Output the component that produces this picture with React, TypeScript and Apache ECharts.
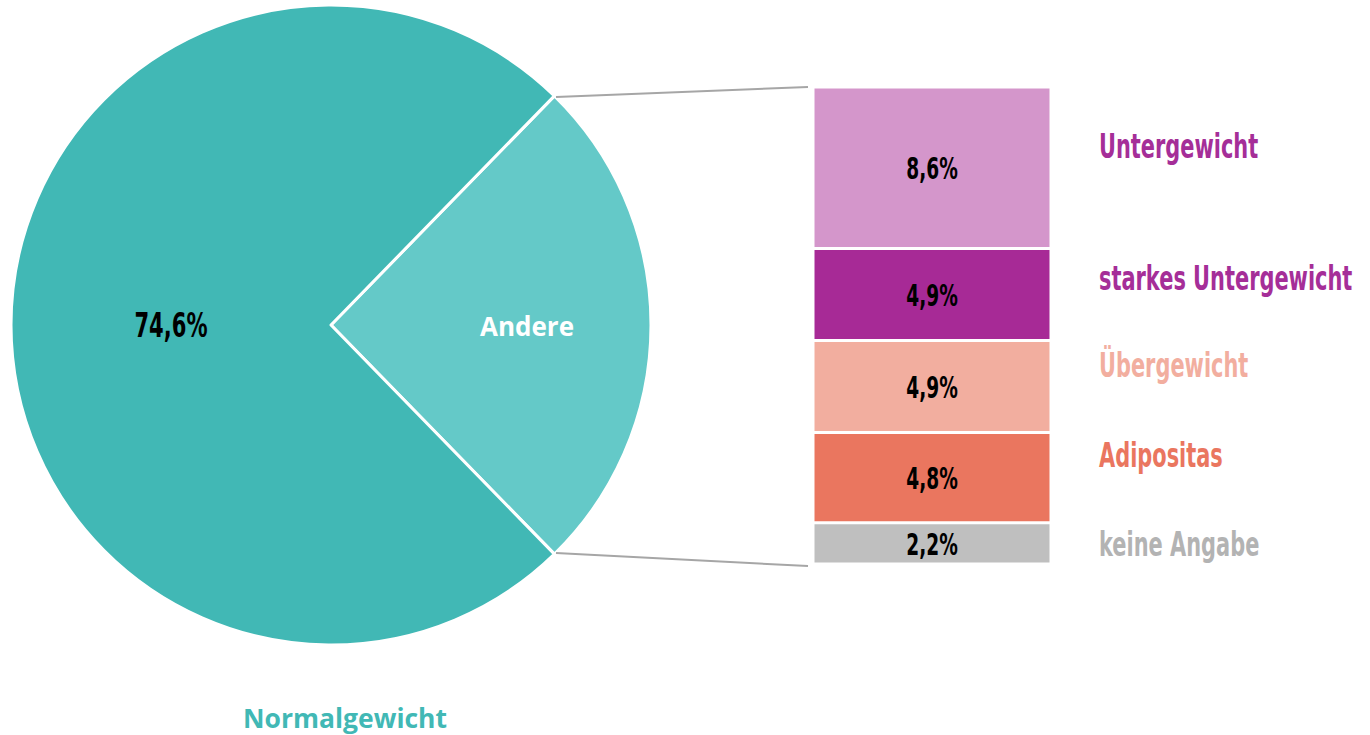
import React, { useEffect, useRef } from "react";
import * as echarts from "echarts";

const pieNames = ["Andere", "Normalgewicht"];
const pieValues = [25.4, 74.6];
const pieColors = ["#64C9C8", "#41B8B5"];

const barNames = ["Untergewicht", "starkes Untergewicht", "Übergewicht", "Adipositas", "keine Angabe"];
const barValues = [8.6, 4.9, 4.9, 4.8, 2.2];
const barColors = ["#D496CB", "#A72A96", "#F2AE9F", "#EA765F", "#BFBFBF"];
const labelColors = ["#A52E98", "#A52E98", "#F2AE9F", "#EA765F", "#B3B3B3"];
const labelY = [147, 279, 366, 456, 545];

const fmt = (v: number) => v.toFixed(1).replace(".", ",") + "%";
const condensed = "'DejaVu Sans', sans-serif";

export default function App() {
  const ref = useRef<HTMLDivElement>(null);
  useEffect(() => {
    if (!ref.current) return;
    const chart = echarts.init(ref.current, undefined, { renderer: "svg" });
    const andereTotal = barValues.reduce((a, b) => a + b, 0);
    const startAngle = ((pieValues[0] / 100) * 360) / 2;
    const center = [331, 325];
    const radius = 320;
    chart.setOption({
      animation: false,
      backgroundColor: "#ffffff",
      grid: { left: 813, top: 87, width: 238, height: 477 },
      xAxis: { type: "category", data: ["Andere"], show: false },
      yAxis: { type: "value", min: 0, max: andereTotal, inverse: true, show: false },
      series: [
        {
          type: "pie",
          center,
          radius,
          startAngle,
          clockwise: true,
          itemStyle: { borderColor: "#ffffff", borderWidth: 3 },
          emphasis: { disabled: true },
          label: { show: false },
          labelLine: { show: false },
          data: pieNames.map((n, i) => ({
            name: n,
            value: pieValues[i],
            itemStyle: { color: pieColors[i] },
          })),
        },
        ...barNames.map((n, i) => ({
          type: "bar",
          name: n,
          stack: "andere",
          barWidth: "100%",
          data: [barValues[i]],
          itemStyle: { color: barColors[i], borderColor: "#ffffff", borderWidth: 1.5 },
          emphasis: { disabled: true },
          label: { show: false },
        })),
      ],
    });

    // value labels in the bars, positioned from the data via the axis scale
    const barLabels: any[] = [];
    let cum = 0;
    barValues.forEach((v) => {
      const p = chart.convertToPixel({ gridIndex: 0 }, [0, cum + v / 2]) as number[];
      cum += v;
      barLabels.push({
        type: "text",
        z: 100,
        x: p[0],
        y: p[1] + 1,
        scaleX: 0.62,
        style: {
          text: fmt(v),
          fill: "#000000",
          fontFamily: condensed,
          fontWeight: "bold",
          fontSize: 30,
          textAlign: "center",
          textVerticalAlign: "middle",
        },
      });
    });

    chart.setOption({
      graphic: [
        {
          type: "line",
          z: 100,
          shape: { x1: 556, y1: 97, x2: 808, y2: 87 },
          style: { stroke: "#A6A6A6", lineWidth: 2 },
        },
        {
          type: "line",
          z: 100,
          shape: { x1: 556, y1: 553, x2: 808, y2: 566 },
          style: { stroke: "#A6A6A6", lineWidth: 2 },
        },
        {
          type: "text",
          z: 100,
          x: center[0] - radius / 2,
          y: 326,
          scaleX: 0.62,
          style: {
            text: fmt(pieValues[1]),
            fill: "#000000",
            fontFamily: condensed,
            fontWeight: "bold",
            fontSize: 34,
            textAlign: "center",
            textVerticalAlign: "middle",
          },
        },
        {
          type: "text",
          z: 100,
          x: 527,
          y: 326,
          style: {
            text: pieNames[0],
            fill: "#ffffff",
            fontFamily: "'Open Sans', sans-serif",
            fontWeight: "bold",
            fontSize: 26,
            textAlign: "center",
            textVerticalAlign: "middle",
          },
        },
        {
          type: "text",
          z: 100,
          x: 345,
          y: 718,
          style: {
            text: pieNames[1],
            fill: "#41B8B5",
            fontFamily: "'Open Sans', sans-serif",
            fontWeight: "bold",
            fontSize: 26.5,
            textAlign: "center",
            textVerticalAlign: "middle",
          },
        },
        ...barLabels,
        ...barNames.map((n, i) => ({
          type: "text",
          z: 100,
          x: 1099,
          y: labelY[i],
          scaleX: 0.615,
          style: {
            text: n,
            fill: labelColors[i],
            fontFamily: condensed,
            fontWeight: "bold",
            fontSize: 34,
            textAlign: "left",
            textVerticalAlign: "middle",
          },
        })),
      ],
    });
    return () => chart.dispose();
  }, []);
  return (
    <div
      ref={ref}
      style={{ position: "fixed", left: 0, top: 0, width: 1370, height: 735 }}
    />
  );
}
